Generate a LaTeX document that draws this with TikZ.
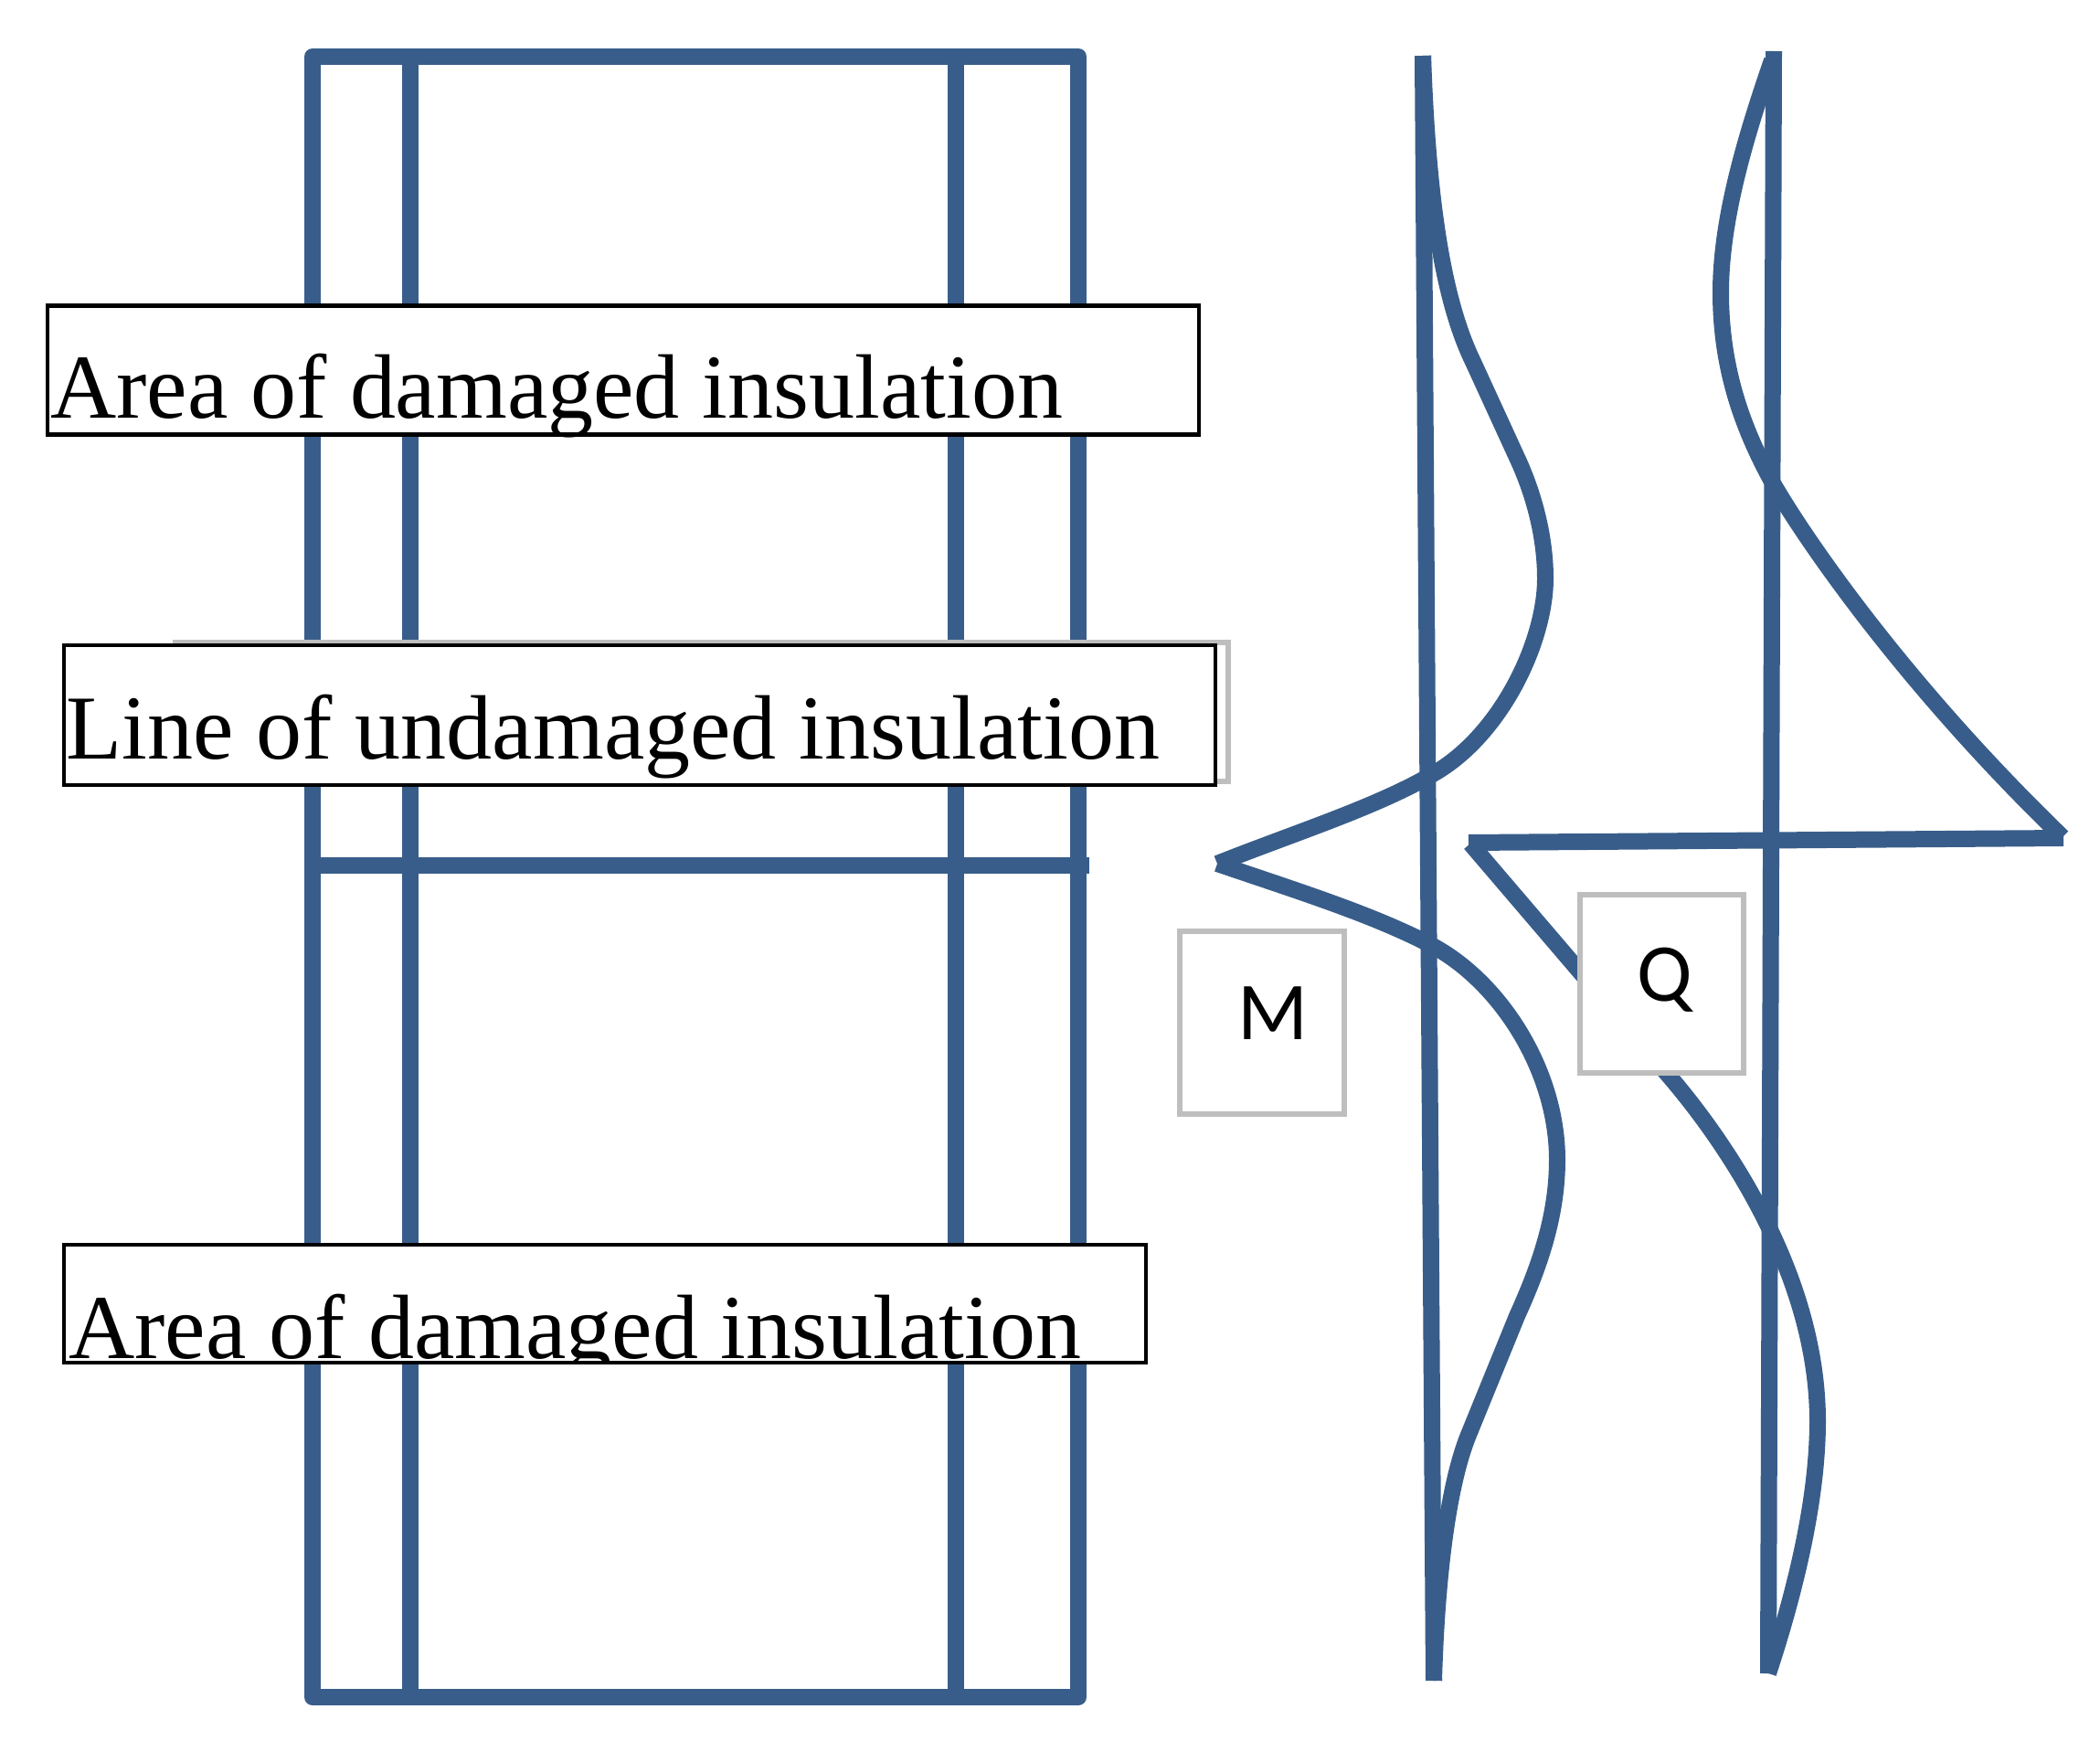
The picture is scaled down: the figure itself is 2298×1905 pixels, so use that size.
\documentclass[tikz,border=0pt]{standalone}
\usepackage{fontspec}
\setmainfont{Liberation Serif}
\newfontfamily\lblfont{Carlito}
\definecolor{steel}{HTML}{385D8A}
\definecolor{paleframe}{HTML}{BEBEBE}
\tikzset{
  member/.style={draw=steel,line width=9pt,line join=round},
  diagram/.style={draw=steel,line width=9pt,line join=round},
  blackbox/.style={draw=black,line width=2.2pt,fill=white,inner sep=0pt,outer sep=0pt},
  greybox/.style={draw=paleframe,line width=3pt,fill=white,inner sep=0pt,outer sep=0pt},
  serifcaption/.style={inner sep=0pt,anchor=base west,font=\fontsize{50}{50}\selectfont},
  symbolcaption/.style={inner sep=0pt,anchor=base west,font=\lblfont\fontsize{45}{45}\selectfont},
}
\begin{document}
\begin{tikzpicture}[x=0.5pt,y=-0.5pt]
\useasboundingbox (0,0) rectangle (2298,1905);
\fill[white] (0,0) rectangle (2298,1905);
% structural member
\draw[member] (342,62) rectangle (1180,1857);
\draw[member] (449,62) -- (449,1857);
\draw[member] (1046,62) -- (1046,1857);
\draw[member] (342,947) -- (1192,947);
% moment diagram
\draw[diagram] (1557,61) -- (1569,1839);
\draw[diagram] (1557,61) .. controls (1562,200) and (1575,320) .. (1612,396)
  -- (1662,505)
  .. controls (1680,545) and (1691,590) .. (1691,633)
  .. controls (1691,700) and (1645,800) .. (1573,844)
  .. controls (1510,882) and (1420,910) .. (1332,945);
\draw[diagram] (1332,945) .. controls (1420,975) and (1500,1000) .. (1564,1033)
  .. controls (1640,1072) and (1704,1170) .. (1704,1269)
  .. controls (1704,1330) and (1685,1385) .. (1660,1440)
  -- (1607,1570)
  .. controls (1589,1614) and (1573,1700) .. (1569,1839);
% shear diagram
\draw[diagram] (1941,56) -- (1935,1831);
\draw[diagram] (1939,66) .. controls (1910,150) and (1883,240) .. (1883,320)
  .. controls (1883,400) and (1905,465) .. (1939,527)
  .. controls (1975,590) and (2085,750) .. (2257,916);
\draw[diagram] (2258,917) -- (1607,922);
\draw[diagram] (1609,923) -- (1827,1178)
  .. controls (1875,1234) and (1989,1385) .. (1989,1555)
  .. controls (1989,1640) and (1965,1740) .. (1935,1831);
% text boxes
\node[greybox,minimum width=576pt,minimum height=76pt] (backbox) at (768,779) {};
\node[blackbox,minimum width=630pt,minimum height=70.5pt] (areaboxtop) at (682,405) {};
\node[serifcaption] (areatop) at (55,457) {Area of damaged insulation};
\node[blackbox,minimum width=630pt,minimum height=76.5pt] (lineboxmid) at (700,782.5) {};
\node[serifcaption] (linemid) at (72,830) {Line of undamaged insulation};
\node[blackbox,minimum width=592pt,minimum height=64.5pt] (areaboxlow) at (662,1426.5) {};
\begin{scope}
\clip (70,1362) rectangle (1254,1491);
\node[serifcaption] (arealow) at (75,1486) {Area of damaged insulation};
\end{scope}
\draw[black,line width=2.2pt] (70,1491) -- (1254,1491);
% labels
\node[greybox,minimum width=90pt,minimum height=100pt] (mbox) at (1381,1119) {};
\node[symbolcaption] (mlabel) at (1354,1137) {M};
\node[greybox,minimum width=89.5pt,minimum height=97.5pt] (qbox) at (1818.5,1076) {};
\node[symbolcaption] (qlabel) at (1791,1095) {Q};
\end{tikzpicture}
\end{document}
